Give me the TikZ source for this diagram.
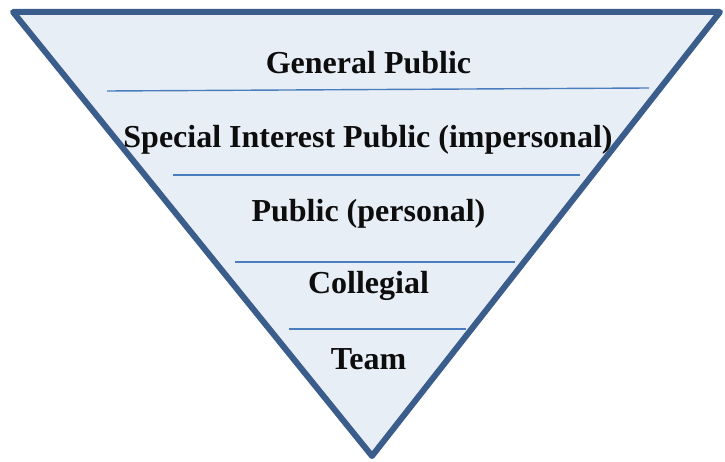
\documentclass[tikz,border=0pt]{standalone}
\usepackage{fontspec}
\setmainfont{Liberation Serif}
\definecolor{rimblue}{HTML}{3A5D8C}
\definecolor{paleblue}{HTML}{E8EEF6}
\definecolor{ruleblue}{HTML}{4A7DBD}
\tikzset{
  funnel/.style={draw=rimblue, fill=paleblue, line width=6pt, line join=round},
  divider/.style={draw=ruleblue, line width=1.4pt},
  level/.style={anchor=base, inner sep=0pt, font=\fontsize{32}{36}\selectfont\bfseries, text=black!95}
}
\begin{document}
\begin{tikzpicture}[x=1pt,y=-1pt]
\useasboundingbox (0,0) rectangle (725,462);
% inverted triangle
\coordinate (tl) at (13,12);
\coordinate (tr) at (720,12);
\coordinate (bt) at (372,456);
\path[funnel] (tl) -- (tr) -- (bt) -- cycle;
% dividers between the levels
\coordinate (d1l) at (107,91);  \coordinate (d1r) at (649,88);
\coordinate (d2l) at (173,175); \coordinate (d2r) at (580,175);
\coordinate (d3l) at (235,262); \coordinate (d3r) at (515,262);
\coordinate (d4l) at (289,329); \coordinate (d4r) at (466,329);
\draw[divider] (d1l) -- (d1r);
\draw[divider] (d2l) -- (d2r);
\draw[divider] (d3l) -- (d3r);
\draw[divider] (d4l) -- (d4r);
% level labels
\node[level] (general) at (368.5,74) {General Public};
\node[level] (special) at (368,148) {Special Interest Public (impersonal)};
\node[level] (public) at (368.5,222) {Public (personal)};
\node[level] (collegial) at (368.5,294) {Collegial};
\node[level] (team) at (368.5,369) {Team};
\end{tikzpicture}
\end{document}
